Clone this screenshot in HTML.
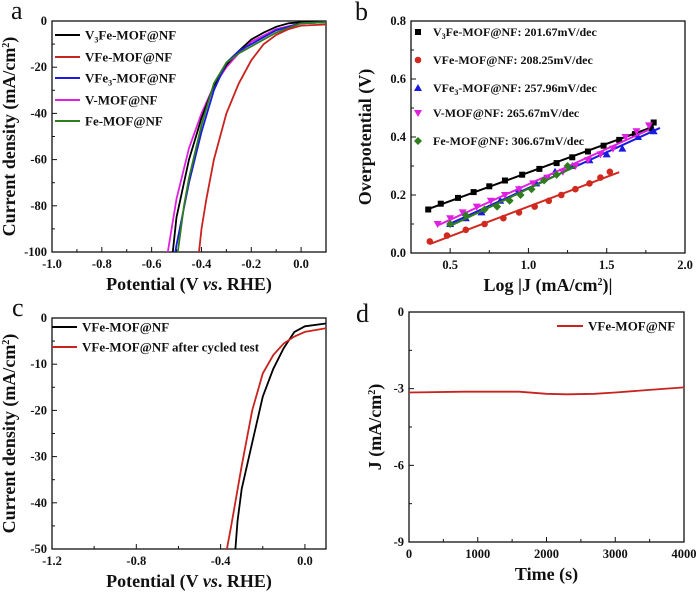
<!DOCTYPE html>
<html><head><meta charset="utf-8"><style>
body{margin:0;background:#fff}
svg text{font-family:"Liberation Serif",serif;font-weight:bold;fill:#111}
</style></head><body>
<svg id="fig" width="700" height="593" viewBox="0 0 700 593" xmlns="http://www.w3.org/2000/svg"></svg>
<script>
// ---- Panel a data ----
const aX_V3Fe=[0.1,0,-0.05,-0.1,-0.15,-0.2,-0.25,-0.3,-0.35,-0.4,-0.45,-0.5,-0.515];
const aY_V3Fe=[-0.3,-0.5,-1,-2.5,-5,-8,-13,-19,-28,-42,-60,-85,-100];
const aX_VFe=[0.1,0,-0.05,-0.1,-0.15,-0.2,-0.25,-0.3,-0.35,-0.38,-0.4,-0.41];
const aY_VFe=[-1.5,-2,-3.5,-6,-10,-17,-27,-40,-60,-77,-90,-100];
const aX_VFe3=[0.1,0,-0.1,-0.2,-0.25,-0.3,-0.35,-0.4,-0.45,-0.5,-0.505];
const aY_VFe3=[-0.5,-1,-4,-10,-13,-18,-30,-48,-70,-97,-100];
const aX_V=[0.1,0,-0.1,-0.2,-0.25,-0.3,-0.35,-0.4,-0.45,-0.5,-0.535];
const aY_V=[-0.5,-1,-3.5,-9,-14,-20,-28,-40,-55,-77,-100];
const aX_Fe=[0.1,0,-0.1,-0.2,-0.25,-0.3,-0.35,-0.4,-0.45,-0.47,-0.495];
const aY_Fe=[-0.5,-1,-5,-11,-14,-18,-27,-45,-68,-80,-100];
// ---- Panel b data ----
const bX_V3Fe=[0.36,0.44,0.55,0.65,0.75,0.85,0.96,1.07,1.18,1.28,1.38,1.48,1.58,1.68,1.78,1.8];
const bY_V3Fe=[0.15,0.17,0.19,0.21,0.23,0.25,0.27,0.29,0.31,0.33,0.35,0.37,0.39,0.41,0.43,0.45];
const bX_VFe=[0.37,0.48,0.6,0.72,0.84,0.94,1.04,1.13,1.21,1.3,1.39,1.46,1.52];
const bY_VFe=[0.04,0.06,0.08,0.10,0.12,0.14,0.16,0.18,0.2,0.22,0.24,0.26,0.28];
const bX_VFe3=[0.5,0.6,0.7,0.82,0.94,1.05,1.17,1.28,1.39,1.5,1.6,1.7,1.8];
const bY_VFe3=[0.1,0.12,0.14,0.18,0.22,0.24,0.28,0.30,0.32,0.34,0.36,0.40,0.42];
const bX_V=[0.42,0.5,0.58,0.67,0.76,0.85,0.94,1.03,1.12,1.22,1.3,1.38,1.46,1.54,1.62,1.69,1.77];
const bY_V=[0.10,0.12,0.14,0.16,0.18,0.20,0.22,0.24,0.26,0.28,0.30,0.32,0.34,0.36,0.40,0.42,0.44];
const bX_Fe=[0.5,0.6,0.72,0.8,0.88,0.95,1.02,1.1,1.18,1.25];
const bY_Fe=[0.1,0.13,0.15,0.16,0.18,0.2,0.22,0.25,0.27,0.30];
// ---- Panel c data ----
const cX_fresh=[0.1,0,-0.05,-0.1,-0.15,-0.2,-0.25,-0.3,-0.32,-0.33];
const cY_fresh=[-1.2,-1.8,-3,-6.5,-11,-17,-27,-37,-44,-50];
const cX_cycled=[0.1,0,-0.05,-0.1,-0.15,-0.2,-0.25,-0.3,-0.35,-0.37];
const cY_cycled=[-2.2,-3,-4,-5.5,-8,-12,-20,-32,-45,-50];
// ---- Panel d data ----
const dT=[0,800,1600,2000,2300,2700,3000,3500,4000];
const dJ=[-3.15,-3.12,-3.12,-3.2,-3.22,-3.2,-3.15,-3.05,-2.95];
// ticks
const aXTicks=[-1.0,-0.8,-0.6,-0.4,-0.2,0.0];
const aYTicks=[0,-20,-40,-60,-80,-100];
const bXTicks=[0.5,1.0,1.5,2.0];
const bYTicks=[0.0,0.2,0.4,0.6,0.8];
const cXTicks=[-1.2,-0.8,-0.4,0.0];
const cYTicks=[0,-10,-20,-30,-40,-50];
const dXTicks=[0,1000,2000,3000,4000];
const dYTicks=[0,-3,-6,-9];

const NS="http://www.w3.org/2000/svg";
const svg=document.getElementById('fig');
function el(tag,attrs,parent,txt){const e=document.createElementNS(NS,tag);for(const k in attrs)e.setAttribute(k,attrs[k]);if(txt!==undefined)e.textContent=txt;(parent||svg).appendChild(e);return e;}
function scale(d0,d1,r0,r1){return v=>r0+(v-d0)*(r1-r0)/(d1-d0);}

function panel(o){
  const g=el('g',{});
  
  
  const sx=scale(o.xd[0],o.xd[1],o.L,o.R), sy=scale(o.yd[0],o.yd[1],o.B,o.T);
  const frame=el('rect',{x:o.L,y:o.T,width:o.R-o.L,height:o.B-o.T,fill:'none',stroke:'#111','stroke-width':1.3},g);
  
  
  const xs=o.xt[1]-o.xt[0];
  for(let v=o.xd[0];v<=o.xd[1]+1e-9;v+=xs/2){
    const major=o.xt.some(t=>Math.abs(t-v)<1e-6);
    const x=sx(v); el('line',{x1:x,x2:x,y1:o.B,y2:o.B-(major?5:3),stroke:'#111','stroke-width':1},g);
  }
  o.xt.forEach((v,i)=>{const t=el('text',{x:sx(v),y:o.B+16,'text-anchor':'middle','font-size':12.5},g,o.xl[i]);
    
    });
  const ys=o.yt[1]-o.yt[0];
  const ylo=Math.min(o.yd[0],o.yd[1]), yhi=Math.max(o.yd[0],o.yd[1]);
  for(let v=ylo;v<=yhi+1e-9;v+=Math.abs(ys)/2){
    const major=o.yt.some(t=>Math.abs(t-v)<1e-6);
    const y=sy(v); el('line',{x1:o.L,x2:o.L+(major?5:3),y1:y,y2:y,stroke:'#111','stroke-width':1},g);
  }
  o.yt.forEach((v,i)=>{const t=el('text',{x:o.L-5,y:sy(v)+4,'text-anchor':'end','font-size':12.5},g,o.yl[i]);
    
    });
  const xt=el('text',{x:(o.L+o.R)/2,y:o.B+38,'text-anchor':'middle','font-size':18},g);
  xt.innerHTML=o.xtitle;
  
  
  const yt=el('text',{x:0,y:0,'text-anchor':'middle','font-size':18,transform:`translate(${o.ytx},${(o.T+o.B)/2}) rotate(-90)`},g);
  yt.innerHTML=o.ytitle;
  
  
  const lt=el('text',{x:o.lx,y:o.ly,'font-size':26,style:'font-weight:normal'},g,o.letter);
  
  
  return {g,sx,sy};
}
function clipTo(p,o,id){const cp=el('clipPath',{id:id},svg);el('rect',{x:o.L,y:o.T,width:o.R-o.L,height:o.B-o.T},cp);}
function line(p,X,Y,color,name,clip){
  const d=X.map((x,i)=>(i?'L':'M')+p.sx(x).toFixed(1)+','+p.sy(Y[i]).toFixed(1)).join('');
  const e=el('path',{d:d,fill:'none',stroke:color,'stroke-width':1.8,'clip-path':clip?`url(#${clip})`:''},p.g);
  
  
}
function legLine(g,x1,x2,y,color,label,fs){
  const l=el('line',{x1:x1,x2:x2,y1:y,y2:y,stroke:color,'stroke-width':2},g);
  
  
  const t=el('text',{x:x2+5,y:y+4.5,'font-size':fs||13},g);
  t.innerHTML=label;
  
  
}
const sub=s=>`<tspan font-size="8" dy="3">${s}</tspan><tspan dy="-3">`;
const close='</tspan>';
const xpot='Potential (V <tspan font-style="italic">vs</tspan>. RHE)';
const ycd='Current density (mA/cm<tspan font-size="10" dy="-6">2</tspan><tspan dy="6">)</tspan>';

// Panel a
const oa={name:'panel-a',L:52,R:326,T:21,B:252,xd:[-1.0,0.1],yd:[-100,0],xt:aXTicks,xl:['-1.0','-0.8','-0.6','-0.4','-0.2','0.0'],
 yt:aYTicks,yl:['0','-20','-40','-60','-80','-100'],xtitle:xpot,ytitle:ycd,ytx:15,letter:'a',lx:11,ly:19};
const pa=panel(oa); clipTo(pa,oa,'ca');
line(pa,aX_V,aY_V,'#e020e0','series-v-mof','ca');
line(pa,aX_V3Fe,aY_V3Fe,'#000','series-v3fe-mof','ca');
line(pa,aX_VFe3,aY_VFe3,'#1a1ae0','series-vfe3-mof','ca');
line(pa,aX_Fe,aY_Fe,'#2e7d1e','series-fe-mof','ca');
line(pa,aX_VFe,aY_VFe,'#c8231e','series-vfe-mof','ca');
legLine(pa.g,55,80,35,'#000','V'+sub('3')+'Fe-MOF@NF'+close);
legLine(pa.g,55,80,57,'#c8231e','VFe-MOF@NF');
legLine(pa.g,55,80,78,'#1a1ae0','VFe'+sub('3')+'-MOF@NF'+close);
legLine(pa.g,55,80,100,'#e020e0','V-MOF@NF');
legLine(pa.g,55,80,121,'#2e7d1e','Fe-MOF@NF');

// Panel b
const ob={name:'panel-b',L:411,R:685,T:21,B:253,xd:[0.25,2.0],yd:[0,0.8],xt:bXTicks,xl:['0.5','1.0','1.5','2.0'],
 yt:bYTicks,yl:['0.0','0.2','0.4','0.6','0.8'],xtitle:'Log |J (mA/cm<tspan font-size="10" dy="-6">2</tspan><tspan dy="6">)|</tspan>',ytitle:'Overpotential (V)',ytx:371,letter:'b',lx:355,ly:20};
const pb=panel(ob);
function fitLine(p,X,Y,color,name,ext){
  const n=X.length,mx=X.reduce((a,b)=>a+b)/n,my=Y.reduce((a,b)=>a+b)/n;
  let sxy=0,sxx=0;X.forEach((x,i)=>{sxy+=(x-mx)*(Y[i]-my);sxx+=(x-mx)*(x-mx);});
  const k=sxy/sxx,b=my-k*mx,x0=X[0],x1=X[n-1]+(ext||0);
  const e=el('line',{x1:p.sx(x0),y1:p.sy(k*x0+b),x2:p.sx(x1),y2:p.sy(k*x1+b),stroke:color,'stroke-width':2},p.g);
  
  
}
function marker(g,type,x,y,color,name){
  let e;
  if(type==='sq')e=el('rect',{x:x-3,y:y-3,width:6,height:6,fill:color},g);
  else if(type==='ci')e=el('circle',{cx:x,cy:y,r:3.3,fill:color},g);
  else if(type==='up')e=el('polygon',{points:`${x},${y-4} ${x-4},${y+3} ${x+4},${y+3}`,fill:color},g);
  else if(type==='dn')e=el('polygon',{points:`${x},${y+4} ${x-4},${y-3} ${x+4},${y-3}`,fill:color},g);
  else e=el('polygon',{points:`${x},${y-4} ${x+4},${y} ${x},${y+4} ${x-4},${y}`,fill:color},g);
  
  
}
const bs=[[bX_V3Fe,bY_V3Fe,'#000','sq','v3fe',0],[bX_VFe,bY_VFe,'#d02a20','ci','vfe',0.06],[bX_VFe3,bY_VFe3,'#1a1ae0','up','vfe3',0.04],[bX_V,bY_V,'#e020e0','dn','v',0],[bX_Fe,bY_Fe,'#2e7d1e','di','fe',0.05]];
bs.forEach(s=>{fitLine(pb,s[0],s[1],s[2],'fit-line-'+s[4],s[5]);s[0].forEach((x,i)=>marker(pb.g,s[3],pb.sx(x),pb.sy(s[1][i]),s[2],'point-'+s[4]));});
const bl=[['sq','#000','V'+sub('3')+'Fe-MOF@NF: 201.67mV/dec'+close],['ci','#d02a20','VFe-MOF@NF: 208.25mV/dec'],['up','#1a1ae0','VFe'+sub('3')+'-MOF@NF: 257.96mV/dec'+close],['dn','#e020e0','V-MOF@NF: 265.67mV/dec'],['di','#2e7d1e','Fe-MOF@NF: 306.67mV/dec']];
const bly=[32,60,88,113,141];
bl.forEach((l,i)=>{marker(pb.g,l[0],418,bly[i],l[1],'legend-marker');const t=el('text',{x:433,y:bly[i]+4,'font-size':12},pb.g);t.innerHTML=l[2];
  
  });

// Panel c
const oc={name:'panel-c',L:52,R:326,T:318,B:549,xd:[-1.2,0.1],yd:[-50,0],xt:cXTicks,xl:['-1.2','-0.8','-0.4','0.0'],
 yt:cYTicks,yl:['0','-10','-20','-30','-40','-50'],xtitle:xpot,ytitle:ycd,ytx:15,letter:'c',lx:12,ly:316};
const pc=panel(oc); clipTo(pc,oc,'cc');
line(pc,cX_fresh,cY_fresh,'#000','series-vfe-fresh','cc');
line(pc,cX_cycled,cY_cycled,'#c8231e','series-vfe-cycled','cc');
legLine(pc.g,52,77,327,'#000','VFe-MOF@NF');
legLine(pc.g,52,77,347,'#c8231e','VFe-MOF@NF after cycled test');

// Panel d
const od={name:'panel-d',L:409,R:684,T:312,B:542,xd:[0,4000],yd:[-9,0],xt:dXTicks,xl:['0','1000','2000','3000','4000'],
 yt:dYTicks,yl:['0','-3','-6','-9'],xtitle:'Time (s)',ytitle:'J (mA/cm<tspan font-size="10" dy="-6">2</tspan><tspan dy="6">)</tspan>',ytx:381,letter:'d',lx:356,ly:322};
const pd=panel(od);
line(pd,dT,dJ,'#c8231e','series-vfe-stability');
legLine(pd.g,557,583,326,'#c8231e','VFe-MOF@NF');
</script>
</body></html>
